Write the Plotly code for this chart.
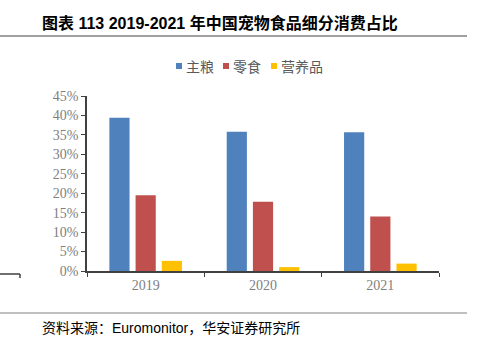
import plotly.graph_objects as go

years = ["2019", "2020", "2021"]
staple = [39.4, 35.8, 35.7]
snack = [19.5, 17.8, 14.0]
nutrition = [2.6, 1.0, 1.9]
series_names = ["主粮", "零食", "营养品"]
colors = ["#4F81BD", "#C0504D", "#FFC000"]

W, H = 478, 351
L, R, T, B = 87, 39, 96, 80
PW, PH = W - L - R, H - T - B


def px(x):
    return (x - L) / PW


def py(y):
    return (H - B - y) / PH


fig = go.Figure()
for name, vals, c in zip(series_names, [staple, snack, nutrition], colors):
    fig.add_trace(go.Bar(x=years, y=vals, name=name, marker=dict(color=c, line=dict(width=0)),
                         showlegend=False))

serif = "Liberation Serif, Times New Roman, serif"
sans = "Liberation Sans, Arial, Noto Sans CJK SC"
fig.update_layout(
    width=W, height=H,
    margin=dict(l=L, r=R, t=T, b=B),
    plot_bgcolor="white", paper_bgcolor="white",
    barmode="group", bargap=0.33, bargroupgap=0.23,
    showlegend=False,
    xaxis=dict(showline=True, linecolor="#404040", linewidth=1.5, ticks="outside", ticklen=4,
               tickcolor="#404040", tickson="boundaries", tickfont=dict(family=serif, size=14, color="#808080"),
               showgrid=False),
    yaxis=dict(range=[0, 45], dtick=5, ticksuffix="%", showline=True, linecolor="#404040", linewidth=1.5,
               ticks="outside", ticklen=4, tickcolor="#404040", showgrid=False, zeroline=False,
               tickfont=dict(family=serif, size=14, color="#808080")),
)

# legend (manual, compact like the reference)
legend_x = [176, 223, 271]
for lx, name, c in zip(legend_x, series_names, colors):
    fig.add_shape(type="rect", xref="paper", yref="paper", x0=px(lx), x1=px(lx + 6),
                  y0=py(69), y1=py(63), fillcolor=c, line=dict(width=0))
    fig.add_annotation(text=name, xref="paper", yref="paper", x=px(lx + 8), xanchor="left",
                       y=py(66), yanchor="middle", showarrow=False,
                       font=dict(family="Noto Sans CJK SC", size=14, color="#595959"))

fig.add_annotation(text="<b>图表 113 2019-2021 年中国宠物食品细分消费占比</b>", xref="paper", yref="paper",
                   x=px(40), xanchor="left", y=py(23), yanchor="middle", showarrow=False,
                   font=dict(family=sans, size=16, color="black"))
fig.add_annotation(text="资料来源：Euromonitor，华安证券研究所", xref="paper", yref="paper",
                   x=px(40), xanchor="left", y=py(328), yanchor="middle", showarrow=False,
                   font=dict(family=sans, size=14, color="black"))
# header and footer rules
fig.add_shape(type="line", xref="paper", yref="paper", x0=px(0), x1=px(467),
              y0=py(36), y1=py(36), line=dict(color="#404040", width=1))
fig.add_shape(type="line", xref="paper", yref="paper", x0=px(0), x1=px(467),
              y0=py(313), y1=py(313), line=dict(color="#808080", width=1))
# leftover axis fragment at left
fig.add_shape(type="line", xref="paper", yref="paper", x0=px(0), x1=px(20),
              y0=py(274), y1=py(274), line=dict(color="#404040", width=1.5))
fig.add_shape(type="line", xref="paper", yref="paper", x0=px(20), x1=px(20),
              y0=py(274), y1=py(278), line=dict(color="#404040", width=1.5))

fig.write_html("out.html")
